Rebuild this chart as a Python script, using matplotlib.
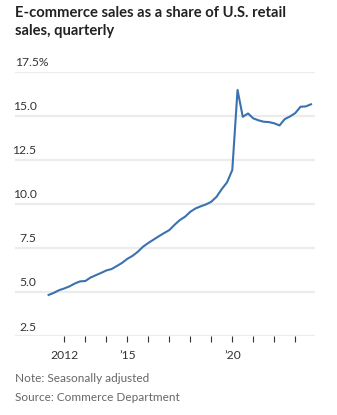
import matplotlib
matplotlib.use("Agg")
import matplotlib.pyplot as plt
import numpy as np

# quarterly e-commerce share of retail sales, 2011 Q2 - 2023 Q4 (%)
start_year = 2011.25
share = [
    4.83, 4.95, 5.10,
    5.20, 5.32, 5.48, 5.60,
    5.62, 5.82, 5.95, 6.08,
    6.22, 6.30, 6.47, 6.65,
    6.88, 7.05, 7.28, 7.57,
    7.78, 7.97, 8.16, 8.34,
    8.51, 8.81, 9.08, 9.27,
    9.55, 9.74, 9.86, 9.97,
    10.12, 10.40, 10.84, 11.22,
    11.92, 16.46, 14.94, 15.13,
    14.85, 14.74, 14.66, 14.64,
    14.57, 14.45, 14.81, 14.96,
    15.15, 15.51, 15.53, 15.65,
]
y_ticks = [2.5, 5.0, 7.5, 10.0, 12.5, 15.0, 17.5]
y_labels = ["2.5", "5.0", "7.5", "10.0", "12.5", "15.0", "17.5%"]
x_ticks = list(range(2012, 2024))
x_labels = {2012: "2012", 2015: "\u201915", 2020: "\u201920"}

title = "E-commerce sales as a share of U.S. retail\nsales, quarterly"
note = "Note: Seasonally adjusted"
source = "Source: Commerce Department"

plt.rcParams['font.family'] = ['Lato', 'DejaVu Sans']

W, H = 337, 415
fig = plt.figure(figsize=(W / 100, H / 100), dpi=100)
ax = fig.add_axes([15 / W, 1 - 336 / H, 300 / W, (336 - 71.7) / H])

quarters = start_year + 0.25 * np.arange(len(share))
ax.plot(quarters, share, color='#3a72ad', linewidth=1.5, solid_joinstyle='round', zorder=3)

ax.set_xlim(2009.65, 2023.94)
ax.set_ylim(2.5, 17.5)
for s in ax.spines.values():
    s.set_visible(False)

for v in y_ticks:
    ax.axhline(v, color='#ececec', linewidth=1.6, zorder=1)

ax.set_yticks([])
ax.set_xticks(x_ticks)
ax.set_xticklabels([x_labels.get(y, "") for y in x_ticks])
ax.tick_params(axis='x', length=4, width=0.8, color='#333333', pad=6,
               labelsize=8.7, labelcolor='#333333')

# y labels sit above the gridlines, right-aligned
for v, lab in zip(y_ticks, y_labels):
    if lab.endswith('%'):
        ax.annotate(lab, xy=(0, v), xycoords=('axes fraction', 'data'),
                    xytext=(0, 2.5), textcoords='offset points',
                    ha='left', va='bottom', fontsize=8.7, color='#333333')
    else:
        ax.annotate(lab, xy=(21.5 / 300, v), xycoords=('axes fraction', 'data'),
                    xytext=(0, 2.5), textcoords='offset points',
                    ha='right', va='bottom', fontsize=8.7, color='#333333')

fig.text(15 / W, 1 - 6 / H, title, ha='left', va='top', fontsize=10.6,
         fontweight='bold', color='#222222', linespacing=1.4)
fig.text(15 / W, 1 - 378 / H, note, ha='left', va='center', fontsize=8.5, color='#666666')
fig.text(15 / W, 1 - 397 / H, source, ha='left', va='center', fontsize=8.5, color='#666666')

fig.savefig('out.png', dpi=100)
